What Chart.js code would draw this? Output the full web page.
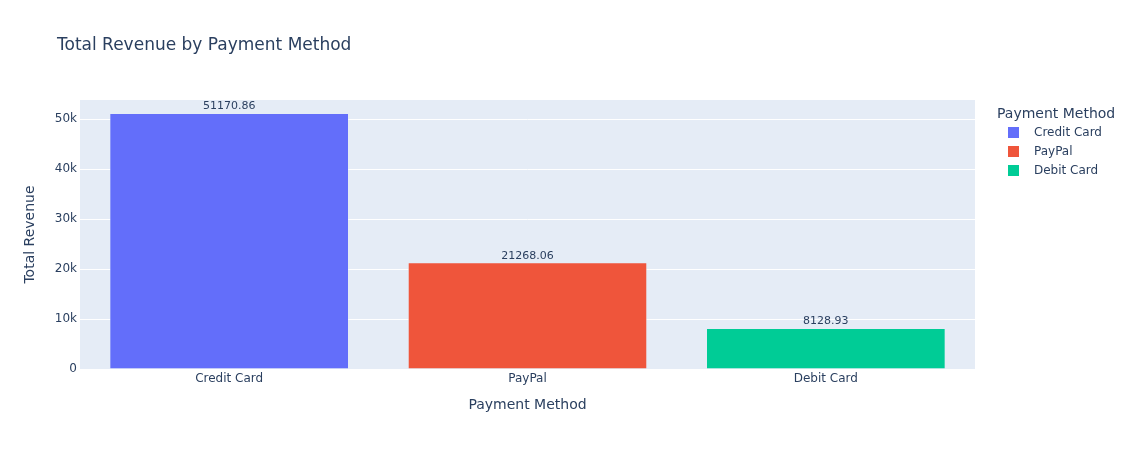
<!DOCTYPE html>
<html>
<head>
<meta charset="utf-8">
<script src="https://cdn.jsdelivr.net/npm/chart.js@4.4.1/dist/chart.umd.min.js"></script>
<style>
  html, body { margin: 0; padding: 0; background: #ffffff; }
  #wrap { width: 1128px; height: 450px; }
</style>
</head>
<body>
<div id="wrap"><canvas id="c" width="1128" height="450"></canvas></div>
<script>
const categories = ["Credit Card", "PayPal", "Debit Card"];
const revenue = [51170.86, 21268.06, 8128.93];
const barColors = ["#636efa", "#EF553B", "#00cc96"];
const yTickValues = [0, 10000, 20000, 30000, 40000, 50000];
const yMax = 53864;
const chartTitle = "Total Revenue by Payment Method";
const xTitle = "Payment Method";
const yTitle = "Total Revenue";
const legendTitle = "Payment Method";

const FONT = "'DejaVu Sans', verdana, arial, sans-serif";
const TXT = "#2a3f5f";

const bgPlugin = {
  id: 'plotBg',
  beforeDraw(chart) {
    const { ctx, chartArea: a } = chart;
    ctx.save();
    ctx.fillStyle = '#e5ecf6';
    ctx.fillRect(a.left, a.top, a.right - a.left, a.bottom - a.top);
    ctx.restore();
  }
};

const decorPlugin = {
  id: 'decor',
  afterDraw(chart) {
    const { ctx, chartArea: a } = chart;
    ctx.save();
    ctx.fillStyle = TXT;
    ctx.font = "17px " + FONT;
    ctx.textAlign = 'left';
    ctx.textBaseline = 'middle';
    ctx.fillText(chartTitle, 57, 46);
    ctx.font = "14px " + FONT;
    ctx.textAlign = 'center';
    ctx.fillText(xTitle, (a.left + a.right) / 2, 405);
    ctx.save();
    ctx.translate(30, (a.top + a.bottom) / 2);
    ctx.rotate(-Math.PI / 2);
    ctx.fillText(yTitle, 0, 0);
    ctx.restore();
    const meta = chart.getDatasetMeta(0);
    ctx.font = "11px " + FONT;
    ctx.textAlign = 'center';
    ctx.textBaseline = 'alphabetic';
    meta.data.forEach((bar, i) => {
      ctx.fillText(revenue[i].toFixed(2), bar.x, bar.y - 4);
    });
    ctx.textAlign = 'left';
    ctx.textBaseline = 'middle';
    ctx.font = "14px " + FONT;
    ctx.fillText(legendTitle, 997, 114);
    ctx.font = "12px " + FONT;
    categories.forEach((c, i) => {
      const y = 133 + i * 19;
      ctx.fillStyle = barColors[i];
      ctx.fillRect(1008, y - 6, 11, 11);
      ctx.fillStyle = TXT;
      ctx.fillText(c, 1034, y);
    });
    ctx.restore();
  }
};

new Chart(document.getElementById('c'), {
  type: 'bar',
  data: {
    labels: categories,
    datasets: [{
      data: revenue,
      backgroundColor: barColors,
      borderColor: '#e5ecf6',
      borderWidth: 0.5,
      barPercentage: 0.8,
      categoryPercentage: 1.0
    }]
  },
  options: {
    responsive: false,
    devicePixelRatio: 1,
    animation: false,
    layout: { padding: { top: 100, right: 153, bottom: 0, left: 0 } },
    plugins: { legend: { display: false }, title: { display: false }, tooltip: { enabled: false } },
    scales: {
      x: {
        grid: { display: false, drawTicks: false },
        border: { display: false },
        ticks: { color: TXT, font: { family: FONT, size: 12 }, padding: 3 },
        afterFit(s) { s.height = 81; }
      },
      y: {
        min: 0, max: yMax,
        grid: { color: '#ffffff', lineWidth: 1, drawTicks: false },
        border: { display: false },
        afterBuildTicks(s) { s.ticks = yTickValues.map(v => ({ value: v })); },
        ticks: {
          color: TXT, font: { family: FONT, size: 12 }, padding: 3,
          callback: v => v === 0 ? '0' : (v / 1000) + 'k'
        },
        afterFit(s) { s.width = 80; }
      }
    }
  },
  plugins: [bgPlugin, decorPlugin]
});
</script>
</body>
</html>
